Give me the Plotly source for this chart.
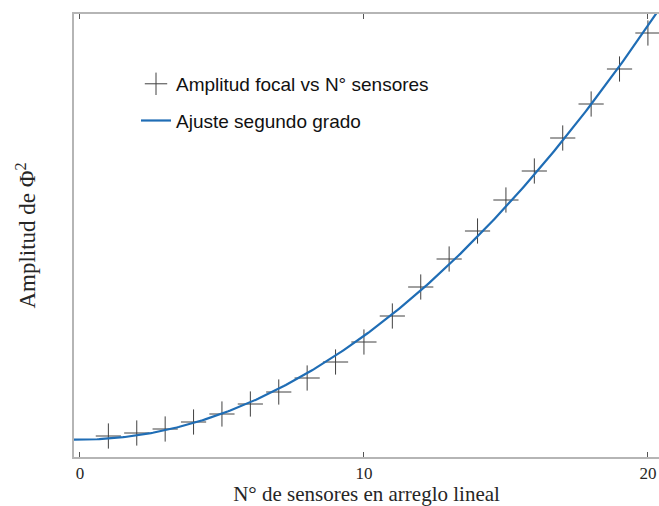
import numpy as np
import plotly.graph_objects as go

sensores = list(range(1, 21))
amplitud = [21, 24, 28, 35, 43, 53, 65, 79, 95, 115, 141, 170, 198, 226, 257, 286, 319, 353, 388, 424]
x_ticks = [0, 10, 20]

coef = np.polyfit(sensores, amplitud, 2)
xf = np.linspace(-0.3, 20.6, 300)
yf = np.polyval(coef, xf)

fig = go.Figure()
fig.add_trace(go.Scatter(
    x=sensores, y=amplitud, mode="markers", name="Amplitud focal vs N° sensores",
    legendgroup="a",
    marker=dict(symbol="cross-thin", size=18, line=dict(width=1, color="#404040"), color="#404040"),
))
fig.add_trace(go.Scatter(
    x=xf, y=yf, mode="lines", name="Ajuste segundo grado", legendgroup="b",
    line=dict(color="#1f6db5", width=2.2),
))

fig.update_layout(
    width=659, height=506,
    margin=dict(l=74, r=0, t=14, b=49),
    plot_bgcolor="white", paper_bgcolor="white",
    showlegend=True,
    legend=dict(x=0.106, y=0.885, xanchor="left", yanchor="top",
                font=dict(family="Liberation Sans", size=19, color="#111111"),
                bgcolor="rgba(0,0,0,0)", tracegroupgap=9),
    xaxis=dict(range=[-0.21, 20.39], tickvals=x_ticks, ticks="inside", ticklen=5,
               tickcolor="#555555", showline=True, linecolor="#b5b5b5", linewidth=1.5,
               mirror="ticks", showgrid=False, zeroline=False,
               tickfont=dict(family="Liberation Serif", size=17, color="#262626"),
               title=dict(text="N° de sensores en arreglo lineal", standoff=9,
                          font=dict(family="Liberation Serif", size=21, color="#262626"))),
    yaxis=dict(range=[0, 443], showticklabels=False, ticks="", showline=True,
               linecolor="#b5b5b5", linewidth=1.5, showgrid=False, zeroline=False,
               title=dict(text="Amplitud de Φ<sup>2</sup>", standoff=30,
                          font=dict(family="Liberation Serif", size=23, color="#262626"))),
)

fig.write_html("out.html")
